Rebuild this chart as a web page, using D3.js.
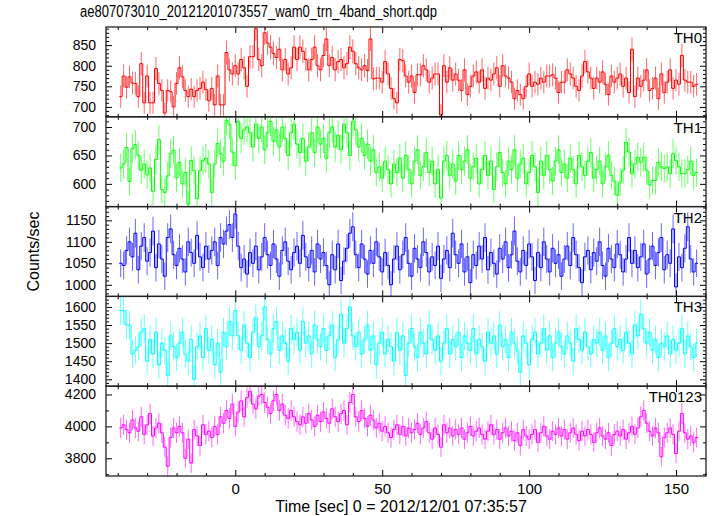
<!DOCTYPE html>
<html><head><meta charset="utf-8">
<script src="https://cdn.jsdelivr.net/npm/d3@7"></script>
<style>body{margin:0;background:#fff}svg{display:block}</style>
</head><body>
<svg id="c" width="717" height="516"></svg>
<script>
const title = "ae807073010_20121201073557_wam0_trn_4band_short.qdp";
const xLabel = "Time [sec] 0 = 2012/12/01 07:35:57";
const yLabel = "Counts/sec";
const bandNames = ["TH0", "TH1", "TH2", "TH3", "TH0123"];
const bandColors = ["#ff0000", "#00ff00", "#0000ff", "#00ffff", "#ff00ff"];
const timeStart = -39;   // centre of first bin [s]
const binWidth = 1;      // [s]

const th0 = [725,775,748,773,758,757,725,805,710,775,710,710,793,757,740,685,740,737,700,757,795,773,740,725,743,725,740,745,760,742,715,745,705,775,705,705,832,790,780,
800,780,815,795,750,822,822,890,815,800,880,855,845,830,820,840,790,815,780,795,845,815,
845,835,815,790,815,845,800,790,825,865,800,820,790,810,815,795,805,845,835,805,795,790,800,788,865,768,770,770,760,810,780,745,720,710,815,812,775,760,775,735,778,778,800,790,760,770,780,780,680,800,760,795,765,780,765,740,790,730,750,775,785,760,790,745,770,765,780,795,750,800,775,770,760,720,740,730,720,750,780,750,760,755,770,760,
775,775,778,770,735,760,760,790,780,770,750,740,775,810,785,770,745,770,760,785,755,730,775,760,770,780,750,770,735,840,725,770,750,765,790,740,745,770,720,780,735,760,790,745,765,755,825,765,760,760,750,755];

const th1 = [628,635,664,604,662,669,650,624,635,616,628,587,643,678,590,585,614,653,659,611,638,600,620,564,641,623,574,623,641,645,635,585,635,671,653,640,712,705,656,632,710,680,695,
700,690,665,705,680,700,660,690,710,675,695,665,700,680,650,690,705,670,655,680,640,665,690,655,700,670,680,645,690,700,665,685,660,705,690,650,710,695,665,680,
650,670,640,660,620,630,610,640,625,600,635,620,645,610,650,625,600,640,660,615,630,655,620,640,600,625,575,640,650,615,635,605,650,625,640,660,610,630,645,600,
625,650,615,640,590,630,655,620,600,640,625,660,610,635,645,600,620,650,630,585,640,615,650,625,605,640,660,620,635,610,645,625,600,650,630,615,640,655,610,625,
640,600,630,650,615,605,580,603,624,673,656,618,635,647,638,647,624,598,606,606,638,630,627,630,618,653,641,630,618,618,625,640,615,620];

const th2 = [1050,1045,1080,1100,1065,1120,1035,1090,1110,1055,1075,1125,1040,1095,1060,1020,1110,1130,1070,1045,1085,1060,1030,1100,1075,1050,1115,1065,1040,1090,1060,1080,1100,1045,1110,1095,1125,1140,1110,1165,
1090,1040,1060,1025,1075,1050,1090,1035,1065,1110,1070,1045,1095,1060,1020,1080,1100,1055,1035,1075,1090,1050,1115,1065,1040,1080,1030,1095,1060,1075,
1045,1000,1070,1035,1095,1010,1055,1085,1120,1135,1070,1040,1095,1060,1025,1080,1050,1100,1065,1030,1075,1045,1000,1060,1090,1035,1070,1110,1050,1020,
1085,1060,1040,1100,1075,1030,1065,1045,1090,1015,1060,1080,1040,1120,1070,1050,1095,1030,1065,1005,1070,1045,1090,1060,1110,1035,1075,1050,1025,1085,
1060,1100,1040,1070,1125,1055,1030,1080,1045,1095,1065,1010,1075,1040,1100,1060,1030,1085,1050,1070,1020,1060,1090,1045,1110,1070,1040,1005,1065,1080,
1035,1075,1055,1100,1045,1020,1085,1060,1040,1095,1070,1030,1060,1110,1050,1080,1040,1065,1095,1025,1060,1090,1045,1075,1110,1035,1070,1050,1130,995,
1065,1040,1085,1135,1060,1030,1050];

const th3 = [1590,1590,1550,1550,1470,1480,1490,1530,1540,1450,1510,1470,1530,1440,1500,1480,1410,1520,1490,1460,1500,1530,1470,1450,1510,1400,1490,1520,1460,1540,1480,1510,1440,1500,1420,1530,1490,1560,1520,1590,
1520,1480,1550,1500,1460,1530,1570,1490,1520,1600,1510,1470,1540,1560,1480,1520,1500,1450,1540,1510,1530,1480,1560,1500,1520,1470,1550,1510,1490,1540,
1480,1520,1550,1460,1510,1580,1500,1540,1600,1520,1490,1530,1470,1510,1550,1480,1520,1440,1500,1530,1470,1510,1490,1450,1530,1480,1520,1410,1500,1540,
1490,1460,1530,1500,1470,1550,1510,1480,1520,1450,1500,1540,1470,1510,1490,1530,1460,1520,1500,1480,1540,1470,1510,1490,1450,1530,1500,1520,1470,1550,
1490,1510,1460,1530,1500,1480,1420,1520,1500,1440,1510,1530,1470,1500,1540,1480,1520,1460,1500,1530,1490,1470,1520,1500,1450,1540,1510,1480,1530,1490,
1470,1510,1500,1530,1480,1520,1460,1500,1540,1490,1510,1480,1530,1500,1470,1550,1520,1580,1540,1500,1530,1480,1510,1460,1500,1490,1520,1470,1510,1480,
1500,1540,1470,1520,1490,1460,1500];

const th0123 = [3990,4010,3980,3960,4040,3990,3970,4060,3950,4010,4080,3940,3990,4020,3960,3870,3750,3930,3990,3960,4000,3960,3800,3920,3770,3980,3940,3880,4010,3950,3970,3930,4000,3950,4060,4020,4100,4050,4140,4000,
4090,4160,4060,4180,4220,4140,4110,4190,4200,4150,4120,4080,4160,4200,4100,4140,4070,4050,4100,4060,4030,4010,4060,4020,4080,4040,4000,4070,4030,4090,
4050,4020,4110,4060,4030,4080,4100,4010,4150,4200,4060,4030,4100,4050,4000,4070,4040,3990,4020,3970,4000,3960,3930,3980,4010,3950,4000,3940,3990,3960,
3980,4020,3950,3990,4030,3960,3920,3990,3950,3870,4010,3960,3990,3940,3980,3950,3990,3920,3960,4000,3940,3970,3990,3950,3920,3970,4010,3950,3980,3920,
3960,3990,3940,3970,3910,3960,3880,3980,3940,3920,3950,3980,3900,3960,4000,3940,3920,3970,3950,3990,3940,3980,3920,3960,3990,3950,3910,3970,3940,3980,
3950,3900,3960,3990,3940,3920,3960,3880,3950,3970,3940,3980,3920,3960,4000,3950,3990,4060,4100,4020,3970,3940,3990,3960,3810,3930,3960,3990,3950,3830,
3970,4080,3960,3920,3940,3900,3930];

const series = [th0, th1, th2, th3, th0123];
const xDomain = [-44, 160.2];
const xMajorTicks = [0, 50, 100, 150];
const xMinorTicks = [-40,-30,-20,-10,10,20,30,40,60,70,80,90,110,120,130,140,160];
const yDomains = [[676, 894], [560, 718], [973, 1182], [1381, 1629], [3689, 4252]];
const yMajorTicks = [[700, 750, 800, 850], [600, 650, 700], [1000, 1050, 1100, 1150], [1400, 1450, 1500, 1550, 1600], [3800, 4000, 4200]];
const yMinorTicks = [
  [680,690,710,720,730,740,760,770,780,790,810,820,830,840,860,870,880,890],
  [570,580,590,610,620,630,640,660,670,680,690,710],
  [980,990,1010,1020,1030,1040,1060,1070,1080,1090,1110,1120,1130,1140,1160,1170,1180],
  [1390,1410,1420,1430,1440,1460,1470,1480,1490,1510,1520,1530,1540,1560,1570,1580,1590,1610,1620],
  [3700, 3900, 4100]
];

(function draw() {
  const plotL = 106, plotR = 706, plotT = 27, plotB = 476;
  const ph = (plotB - plotT) / series.length;
  const FONT = "'Liberation Sans', Arial, Helvetica, sans-serif";
  const svg = d3.select("#c");
  const x = d3.scaleLinear().domain(xDomain).range([plotL, plotR]);

  svg.append("text").attr("x", 80).attr("y", 17).attr("font-family", FONT).attr("font-size", 16)
    .attr("textLength", 357).attr("lengthAdjust", "spacingAndGlyphs").text(title);

  series.forEach((vals, k) => {
    const y0 = plotT + k * ph, y1 = y0 + ph;
    const color = bandColors[k];
    const y = d3.scaleLinear().domain(yDomains[k]).range([y1, y0]);
    const clipId = "clip" + k;
    svg.append("clipPath").attr("id", clipId).append("rect")
      .attr("x", plotL).attr("y", y0).attr("width", plotR - plotL).attr("height", ph);
    const g = svg.append("g");
    const dg = g.append("g").attr("clip-path", `url(#${clipId})`);
    const tOf = i => timeStart + i * binWidth;
    dg.selectAll("line.err").data(vals).join("line").attr("class", "err")
      .attr("x1", (d, i) => x(tOf(i))).attr("x2", (d, i) => x(tOf(i)))
      .attr("y1", d => y(d - Math.sqrt(d))).attr("y2", d => y(d + Math.sqrt(d)))
      .attr("stroke", color).attr("stroke-opacity", 0.6).attr("stroke-width", 1);
    const pts = vals.flatMap((d, i) => [[tOf(i) - binWidth / 2, d], [tOf(i) + binWidth / 2, d]]);
    dg.append("path").attr("d", d3.line().x(p => x(p[0])).y(p => y(p[1]))(pts))
      .attr("fill", "none").attr("stroke", color).attr("stroke-width", 1);

    const styleAxis = sel => {
      sel.select(".domain").remove();
      sel.selectAll("line").attr("stroke", "#000").attr("stroke-width", 1);
      sel.selectAll("text").attr("font-family", FONT).attr("font-size", 14).attr("fill", "#000");
    };
    g.append("g").attr("transform", `translate(${plotL},0)`)
      .call(d3.axisLeft(y).tickValues(yMajorTicks[k]).tickSize(-6).tickPadding(10).tickFormat(d3.format("d"))).call(styleAxis);
    g.append("g").attr("transform", `translate(${plotL},0)`)
      .call(d3.axisLeft(y).tickValues(yMinorTicks[k]).tickSize(-3).tickFormat("")).call(styleAxis);
    g.append("g").attr("transform", `translate(${plotR},0)`)
      .call(d3.axisRight(y).tickValues(yMajorTicks[k]).tickSize(-6).tickFormat("")).call(styleAxis);
    g.append("g").attr("transform", `translate(${plotR},0)`)
      .call(d3.axisRight(y).tickValues(yMinorTicks[k]).tickSize(-3).tickFormat("")).call(styleAxis);
    g.append("g").attr("transform", `translate(0,${y0})`)
      .call(d3.axisTop(x).tickValues(xMajorTicks).tickSize(-6).tickFormat("")).call(styleAxis);
    g.append("g").attr("transform", `translate(0,${y0})`)
      .call(d3.axisTop(x).tickValues(xMinorTicks).tickSize(-3).tickFormat("")).call(styleAxis);
    const last = k === series.length - 1;
    g.append("g").attr("transform", `translate(0,${y1})`)
      .call(d3.axisBottom(x).tickValues(xMajorTicks).tickSize(-6).tickPadding(7).tickFormat(last ? d3.format("d") : "")).call(styleAxis)
      .call(sel => sel.selectAll("text").attr("font-size", 15));
    g.append("g").attr("transform", `translate(0,${y1})`)
      .call(d3.axisBottom(x).tickValues(xMinorTicks).tickSize(-3).tickFormat("")).call(styleAxis);
    g.append("rect").attr("x", plotL).attr("y", y0).attr("width", plotR - plotL).attr("height", ph)
      .attr("fill", "none").attr("stroke", "#222").attr("stroke-width", 1.3);
    g.append("text").attr("x", 702).attr("y", y0 + 16).attr("text-anchor", "end")
      .attr("font-family", FONT).attr("font-size", 15).attr("fill", "#000").text(bandNames[k]);
  });

  svg.append("text").attr("x", 401).attr("y", 512).attr("text-anchor", "middle")
    .attr("font-family", FONT).attr("font-size", 16).text(xLabel);
  svg.append("text").attr("transform", `translate(39,${(plotT + plotB) / 2}) rotate(-90)`)
    .attr("text-anchor", "middle").attr("font-family", FONT).attr("font-size", 16).text(yLabel);
})();
</script>
</body></html>
